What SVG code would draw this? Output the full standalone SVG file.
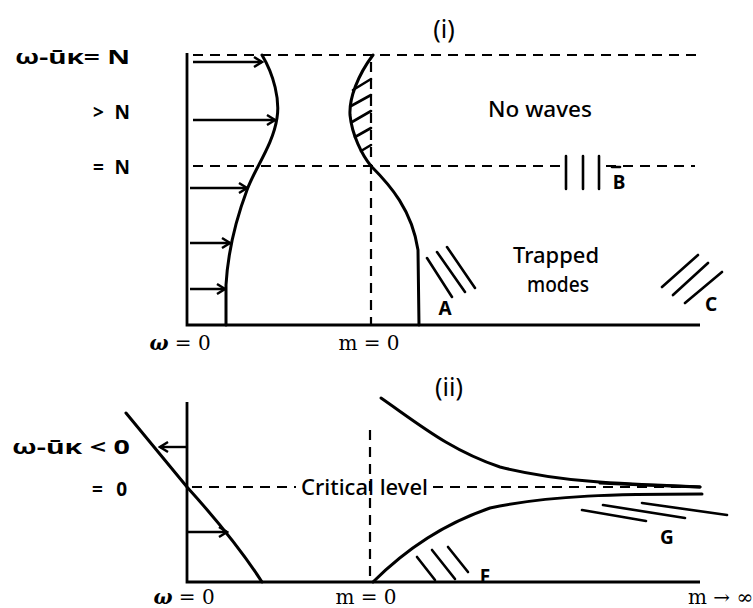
<svg xmlns="http://www.w3.org/2000/svg" width="753" height="608" viewBox="0 0 753 608">
<defs>
<style>
.ax{stroke:#000;stroke-width:2.8;fill:none}
.cv{stroke:#000;stroke-width:3;fill:none;stroke-linecap:round}
.ds{stroke:#000;stroke-width:2.2;fill:none;stroke-dasharray:10 7}
.ht{stroke:#000;stroke-width:2.6;fill:none;stroke-linecap:round}
.ar{stroke:#000;stroke-width:2.4;fill:none;marker-end:url(#ah)}
.lb{font-family:"Noto Sans","DejaVu Sans",sans-serif;font-weight:bold;font-size:19px;fill:#000}
.tx{font-family:"Noto Sans","DejaVu Sans",sans-serif;font-weight:500;font-size:21px;fill:#000}
.mt{font-family:"DejaVu Serif","Liberation Serif",serif;font-size:20px;fill:#000}
.ti{font-family:"Noto Sans","DejaVu Sans",sans-serif;font-size:25px;fill:#000}
</style>
<marker id="ah" markerWidth="12" markerHeight="12" refX="10" refY="6" orient="auto" markerUnits="userSpaceOnUse">
<path d="M2,1 L10,6 L2,11" fill="none" stroke="#000" stroke-width="2.4"/>
</marker>
</defs>

<g id="panel-i">
<text class="ti" x="444" y="38" text-anchor="middle">(i)</text>
<text class="lb" x="15" y="64" textLength="115" lengthAdjust="spacingAndGlyphs">ω-ūκ= N</text>
<text class="lb" x="93" y="119" textLength="37">&gt; N</text>
<text class="lb" x="93" y="174" textLength="37">= N</text>
<path class="ax" d="M187,53 L187,325 L700,325"/>
<path class="ds" d="M193,55 L700,55"/>
<path class="ds" d="M193,166 L560,166"/>
<path class="ds" d="M606,166 L695,166"/>
<path class="ds" d="M371,62 L371,325"/>
<path class="cv" d="M262,55 C274,75 280,100 277,118 C273,145 255,168 247,190 C238,214 228,250 226,285 L226,325"/>
<path class="cv" d="M373,55 C358,75 349,98 350,115 C352,135 362,155 371,166 C390,185 412,210 418,250 L419,325"/>
<g id="hatch-top">
<path class="ht" d="M353,90 L371,79 M351,106 L371,95 M352,122 L371,111 M355,137 L371,128 M361,151 L371,145"/>
</g>
<g id="arrows-i">
<path class="ar" d="M193,62 L262,62"/>
<path class="ar" d="M193,120 L275,120"/>
<path class="ar" d="M190,188 L247,188"/>
<path class="ar" d="M190,243 L230,243"/>
<path class="ar" d="M190,289 L225,289"/>
</g>
<text class="tx" x="488" y="117" textLength="104" lengthAdjust="spacingAndGlyphs">No waves</text>
<text class="tx" x="513" y="263" textLength="86" lengthAdjust="spacingAndGlyphs">Trapped</text>
<text class="tx" x="527" y="292" textLength="62" lengthAdjust="spacingAndGlyphs">modes</text>
<g id="lines-A"><path class="ht" d="M427,258 L452,297 M437,252 L465,292 M447,247 L475,288"/></g>
<text class="lb" x="445" y="315" text-anchor="middle">A</text>
<g id="lines-B"><path class="ht" d="M566,156 L566,189 M583,156 L583,189 M599,156 L599,189"/></g>
<path class="ht" d="M612,167 L620,167" stroke-width="2"/>
<text class="lb" x="619" y="189" text-anchor="middle">B</text>
<g id="lines-C"><path class="ht" d="M662,287 L698,255 M673,295 L708,263 M685,303 L722,272"/></g>
<text class="lb" x="711" y="311" text-anchor="middle">C</text>
<text class="mt" x="180" y="350" text-anchor="middle"><tspan font-style="italic" font-weight="bold">ω</tspan> = 0</text>
<text class="mt" x="369" y="350" text-anchor="middle">m = 0</text>
</g>

<g id="panel-ii">
<text class="ti" x="449" y="396" text-anchor="middle">(ii)</text>
<text class="lb" x="12" y="454" textLength="118" lengthAdjust="spacingAndGlyphs">ω-ūκ &lt; 0</text>
<text class="lb" x="92" y="496" textLength="35">= 0</text>
<path class="ax" d="M187,402 L187,582 L700,582"/>
<path class="cv" d="M126,413 L187,487 Q235,540 262,582"/>
<g id="arrows-ii">
<path class="ar" d="M187,447 L160,447"/>
<path class="ar" d="M187,532 L227,532"/>
</g>
<path class="ds" d="M192,487 L296,487"/>
<path class="ds" d="M433,487 L697,487"/>
<text class="tx" x="301" y="495" textLength="127" lengthAdjust="spacingAndGlyphs">Critical level</text>
<path class="ds" d="M370,430 L370,582"/>
<path class="cv" d="M381,398 C420,425 450,450 500,467 C560,482 620,484 700,487"/>
<path class="cv" d="M373,582 C400,555 440,525 490,508 C550,495 620,494 702,494"/>
<path class="cv" d="M600,483 C640,485 670,486 700,487" stroke-width="4"/>
<g id="lines-G"><path class="ht" d="M582,510 L646,521 M603,505 L685,518 M642,503 L727,515"/></g>
<text class="lb" x="667" y="544" text-anchor="middle">G</text>
<g id="lines-F"><path class="ht" d="M417,557 L435,580 M432,550 L455,579 M448,547 L468,572"/></g>
<text class="lb" x="485" y="583" text-anchor="middle">F</text>
<text class="mt" x="184" y="604" text-anchor="middle"><tspan font-style="italic" font-weight="bold">ω</tspan> = 0</text>
<text class="mt" x="366" y="604" text-anchor="middle">m = 0</text>
<text class="mt" x="688" y="604">m → ∞</text>
</g>
</svg>
